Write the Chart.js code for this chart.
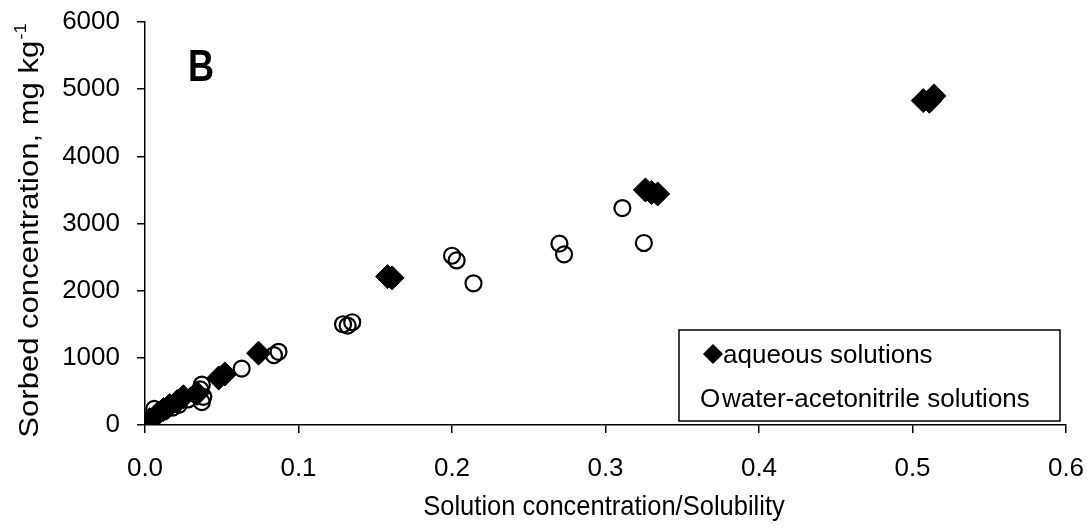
<!DOCTYPE html>
<html lang="en">
<head>
  <meta charset="UTF-8">
  <title>Sorbed vs solution concentration</title>
  <script src="https://cdn.jsdelivr.net/npm/chart.js"></script>
  <style>
    body { margin: 0; background: #fff; }
  </style>
</head>
<body>
  <canvas id="sorption" width="1089" height="531"></canvas>

  <script>
    // values (panel B)
    const aqueousX = [0.001, 0.003, 0.008, 0.012, 0.016, 0.021, 0.025, 0.034, 0.048, 0.052, 0.074, 0.158, 0.161, 0.326, 0.330, 0.334, 0.507, 0.511, 0.514];
    const aqueousY = [30, 80, 160, 230, 290, 350, 420, 470, 700, 760, 1070, 2210, 2190, 3500, 3460, 3440, 4830, 4820, 4900];

    const mixedX = [0.002, 0.006, 0.012, 0.018, 0.022, 0.028, 0.033, 0.036, 0.037, 0.037, 0.038, 0.063, 0.084, 0.087, 0.129, 0.132, 0.135, 0.200, 0.203, 0.214, 0.270, 0.273, 0.311, 0.325];
    const mixedY = [60, 240, 200, 260, 300, 380, 460, 530, 600, 340, 420, 840, 1040, 1090, 1500, 1480, 1530, 2520, 2450, 2110, 2700, 2540, 3230, 2710];

    const seriesNames = ['aqueous solutions', 'water-acetonitrile solutions'];
    const xTitle = 'Solution concentration/Solubility';
    const yTitle = 'Sorbed concentration, mg kg';
    const yTitleSup = '-1';
    const panelLabel = 'B';

    const toPoints = (xs, ys) => xs.map((x, i) => ({ x: x, y: ys[i] }));
    const FONT = '"Liberation Sans", Arial, sans-serif';

    Chart.defaults.font.family = FONT;
    Chart.defaults.color = '#000';

    // axis titles, panel letter and boxed legend
    const decorations = {
      id: 'decorations',
      afterDraw(chart) {
        const ctx = chart.ctx;
        ctx.save();
        ctx.fillStyle = '#000';
        ctx.strokeStyle = '#000';

        // x title (source text is a little taller than wide)
        ctx.save();
        ctx.translate(604, 515);
        ctx.scale(1, 1.1);
        ctx.font = '25.5px ' + FONT;
        ctx.textAlign = 'center';
        ctx.textBaseline = 'alphabetic';
        ctx.fillText(xTitle, 0, 0);
        ctx.restore();

        // y title with superscript
        ctx.save();
        ctx.translate(38, 231);
        ctx.rotate(-Math.PI / 2);
        ctx.scale(1.15, 1);
        ctx.font = '27px ' + FONT;
        const w1 = ctx.measureText(yTitle).width;
        ctx.font = '16px ' + FONT;
        const w2 = ctx.measureText(yTitleSup).width;
        const start = -(w1 + w2) / 2;
        ctx.textAlign = 'left';
        ctx.font = '27px ' + FONT;
        ctx.fillText(yTitle, start, 0);
        ctx.font = '16px ' + FONT;
        ctx.fillText(yTitleSup, start + w1 + 1, -12);
        ctx.restore();

        // panel letter
        ctx.save();
        ctx.translate(188, 81);
        ctx.scale(0.82, 1);
        ctx.font = 'bold 44px ' + FONT;
        ctx.textAlign = 'left';
        ctx.fillText(panelLabel, 0, 0);
        ctx.restore();

        // legend box
        ctx.lineWidth = 1.5;
        ctx.fillStyle = '#fff';
        ctx.fillRect(679, 330, 381, 91);
        ctx.strokeRect(679, 330, 381, 91);
        ctx.fillStyle = '#000';
        Chart.helpers.drawPoint(ctx, { pointStyle: 'rectRot', radius: 9, borderWidth: 1 }, 713, 354);
        ctx.fill();
        ctx.font = '26px ' + FONT;
        ctx.textAlign = 'left';
        ctx.textBaseline = 'middle';
        ctx.fillText(seriesNames[0], 723, 356);
        ctx.fillText('O', 700, 400);
        ctx.fillText(seriesNames[1], 722, 400);
        ctx.restore();
      }
    };

    new Chart(document.getElementById('sorption'), {
      type: 'scatter',
      data: {
        datasets: [
          {
            label: seriesNames[0],
            data: toPoints(aqueousX, aqueousY),
            pointStyle: 'rectRot',
            pointRadius: 12,
            pointHoverRadius: 12,
            backgroundColor: '#000',
            borderColor: '#000',
            borderWidth: 1
          },
          {
            label: seriesNames[1],
            data: toPoints(mixedX, mixedY),
            pointStyle: 'circle',
            pointRadius: 8,
            pointHoverRadius: 8,
            backgroundColor: 'rgba(255,255,255,0)',
            borderColor: '#000',
            borderWidth: 2.2
          }
        ]
      },
      options: {
        responsive: false,
        animation: false,
        events: [],
        layout: { padding: { top: 22, right: 23, left: 0, bottom: 0 } },
        plugins: {
          legend: { display: false },
          tooltip: { enabled: false }
        },
        scales: {
          x: {
            type: 'linear',
            min: 0,
            max: 0.6,
            ticks: {
              stepSize: 0.1,
              padding: 20,
              font: { size: 26 },
              callback: v => v.toFixed(1)
            },
            grid: { drawOnChartArea: false, drawTicks: true, tickLength: 8, color: '#000', lineWidth: 1.5 },
            border: { color: '#000', width: 1.5 },
            afterFit: scale => {
              scale.height = 106;
              scale.paddingLeft = 0;
              scale.paddingRight = 0;
            }
          },
          y: {
            type: 'linear',
            min: 0,
            max: 6000,
            ticks: {
              stepSize: 1000,
              padding: 17,
              font: { size: 26 },
              callback: v => String(v)
            },
            grid: { drawOnChartArea: false, drawTicks: true, tickLength: 8, color: '#000', lineWidth: 1.5 },
            border: { color: '#000', width: 1.5 },
            afterFit: scale => {
              scale.width = 145;
              scale.paddingTop = 0;
              scale.paddingBottom = 0;
            }
          }
        }
      },
      plugins: [decorations]
    });
  </script>
</body>
</html>
